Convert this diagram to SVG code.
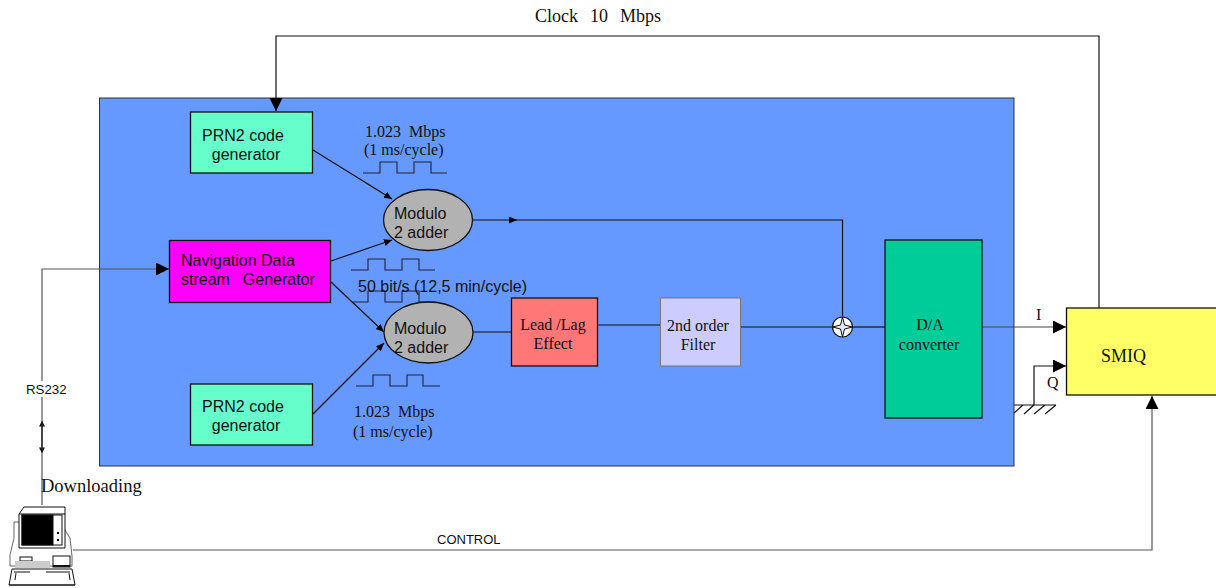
<svg xmlns="http://www.w3.org/2000/svg" width="1216" height="588" viewBox="0 0 1216 588">
<defs>
<marker id="big" markerUnits="userSpaceOnUse" markerWidth="14" markerHeight="14" refX="13" refY="6.5" orient="auto"><path d="M0,0 L13,6.5 L0,13 Z" fill="#000"/></marker>
<marker id="small" markerUnits="userSpaceOnUse" markerWidth="9" markerHeight="8" refX="8" refY="3.5" orient="auto"><path d="M0,0 L8,3.5 L0,7 Z" fill="#000"/></marker>
</defs>
<style>
text{fill:#111}
.sans{font-family:"Liberation Sans",Arial,sans-serif;font-size:16px}
.serif{font-family:"Liberation Serif","Times New Roman",serif;font-size:16px}
.box{stroke:#111;stroke-width:1.3}
.line{fill:none;stroke:#111;stroke-width:1.2}
.wave{fill:none;stroke:#223;stroke-width:1.1}
.grey{fill:none;stroke:#555;stroke-width:1.2}
.m{text-anchor:middle}
</style>
<rect id="panel" x="99.500" y="98" width="914.500" height="368" fill="#6699ff" stroke="#333" stroke-width="1"/>

<g id="connectors">
<path class="line" d="M1099,308 V36 H276 V111" marker-end="url(#big)"/>
<path class="line" d="M313,150 L392,199" marker-end="url(#small)"/>
<path class="line" d="M331,261 L392,240" marker-end="url(#small)"/>
<path class="line" d="M331,282 L384,332" marker-end="url(#small)"/>
<path class="line" d="M313,414 L384,343" marker-end="url(#small)"/>
<path class="line" d="M472,220 H517" marker-end="url(#small)"/>
<path class="line" d="M512,220 H842.500 V316"/>
<path class="line" d="M473,332 H511"/>
<path class="line" d="M598,325 H660"/>
<path class="line" d="M741,327 H832"/>
<path class="line" d="M853,327 H885"/>
<path class="line" d="M982,327 H1066" marker-end="url(#big)" style="stroke:#444"/>
<path class="line" d="M1034,405 V366 H1066" marker-end="url(#big)"/>
<path class="line" d="M1014,405 H1056 M1014,413 L1023,405 M1024,414 L1034,405 M1034,414 L1045,405 M1045,414 L1056,405"/>
<path class="grey" d="M42,505 V269 H169" marker-end="url(#big)"/>
<path class="line" d="M42,422 V452 M42,422 L40,426 H44 Z M42,452 L40,448 H44 Z" fill="#000"/>
<path class="grey" d="M73,550 H1152 V396" marker-end="url(#big)"/>
</g>

<g id="prn-top"><rect class="box" x="190.500" y="112" width="122" height="61" fill="#66ffcc"/>
<text class="sans m" x="243" y="141">PRN2 code</text><text class="sans m" x="246" y="160">generator</text></g>
<g id="prn-bottom"><rect class="box" x="190.500" y="384" width="122" height="61" fill="#66ffcc"/>
<text class="sans m" x="243" y="412">PRN2 code</text><text class="sans m" x="246" y="431">generator</text></g>
<g id="nav"><rect class="box" x="169.500" y="240.500" width="161" height="62" fill="#ff00ff"/>
<text class="sans" x="181" y="266">Navigation Data</text><text class="sans" x="181" y="285" xml:space="preserve" style="word-spacing:2px">stream  Generator</text></g>
<g id="adder-top"><ellipse class="box" cx="428" cy="220" rx="44.500" ry="30.500" fill="#b2b2b2"/>
<text class="sans" x="394" y="219">Modulo</text><text class="sans" x="394" y="238">2 adder</text></g>
<g id="adder-bottom"><ellipse class="box" cx="428.500" cy="332.500" rx="44.500" ry="30.500" fill="#b2b2b2"/>
<text class="sans" x="394" y="334">Modulo</text><text class="sans" x="394" y="353">2 adder</text></g>
<g id="leadlag"><rect class="box" x="511.500" y="298" width="86" height="68" fill="#ff7777"/>
<text class="serif m" x="553" y="330">Lead /Lag</text><text class="serif m" x="553" y="349">Effect</text></g>
<g id="filter"><rect x="660.500" y="298" width="80" height="68" fill="#ccccff" stroke="#777" stroke-width="1"/>
<text class="serif m" x="698" y="331">2nd order</text><text class="serif m" x="698" y="350">Filter</text></g>
<g id="sum"><circle cx="842.500" cy="327" r="10" fill="#fff" stroke="#111" stroke-width="1.200"/>
<path d="M842.500,317 L844.500,325 L852.500,327 L844.500,329 L842.500,337 L840.500,329 L832.500,327 L840.500,325 Z" fill="#e8e8f4" stroke="#111" stroke-width="1"/></g>
<g id="da"><rect class="box" x="885" y="240" width="97" height="178" fill="#00cc99"/>
<text class="serif m" x="930" y="330">D/A</text><text class="serif m" x="929" y="350">converter</text></g>
<g id="smiq"><rect class="box" x="1066.500" y="308" width="151" height="87" fill="#ffff66"/>
<text class="serif" x="1101" y="362" style="font-size:18px">SMIQ</text></g>

<g id="waves">
<path class="wave" d="M363,173 H380 V162 H397 V173 H414 V162 H431 V173 H447"/>
<path class="wave" d="M351,270 H368 V259 H385 V270 H402 V259 H419 V270 H435"/>
<path class="wave" d="M353,302 H368 V291 H385 V302 H402 V291 H419 V302 H436"/>
<path class="wave" d="M356,386 H373 V375 H390 V386 H407 V375 H423 V386 H440"/>
</g>

<g id="labels">
<text class="serif" x="535" y="22" style="font-size:18px;word-spacing:1.500px" xml:space="preserve">Clock  10  Mbps</text>
<text class="serif" x="365" y="137" xml:space="preserve">1.023  Mbps</text>
<text class="serif" x="364" y="155">(1 ms/cycle)</text>
<text class="sans" x="358" y="292">50 bit/s (12,5 min/cycle)</text>
<text class="serif" x="354" y="417" xml:space="preserve">1.023  Mbps</text>
<text class="serif" x="353" y="437">(1 ms/cycle)</text>
<text class="serif" x="1036" y="320">I</text>
<text class="serif" x="1047" y="388">Q</text>
<rect x="26" y="381" width="34" height="16" fill="#fff"/>
<text class="sans" x="26" y="394" style="font-size:13.300px">RS232</text>
<text class="serif" x="41" y="492" style="font-size:18.500px">Downloading</text>
<text class="sans" x="437" y="544" style="font-size:13px">CONTROL</text>
</g>

<g id="pc" fill="#fff" stroke="#111" stroke-width="1">
<path d="M14,538 V522 H60 L70,538 L72,556 V566 H10 V555 Z" stroke="#666"/>
<path d="M19,514 L24,507 H65 V548 H19 Z"/>
<path d="M19,514 H65" />
<rect x="22" y="515" width="40" height="30" fill="#fff"/>
<rect x="22" y="515" width="31" height="30" fill="#000"/>
<rect x="57" y="532" width="2" height="2" fill="#000" stroke="none"/><rect x="57" y="539" width="2" height="2" fill="#000" stroke="none"/>
<rect x="20" y="557" width="12" height="4"/>
<rect x="15" y="561" width="35" height="7" fill="#ccc" stroke="none"/>
<rect x="53" y="556" width="17" height="11"/><path d="M53,566 H70" stroke-width="2"/>
<path d="M12,569 H72 L75,585 H9 Z M14,572 H30 M46,572 H70 M15,580 L16,573 M70,580 L69,573 M9,585 H75"/>
</g>
</svg>
